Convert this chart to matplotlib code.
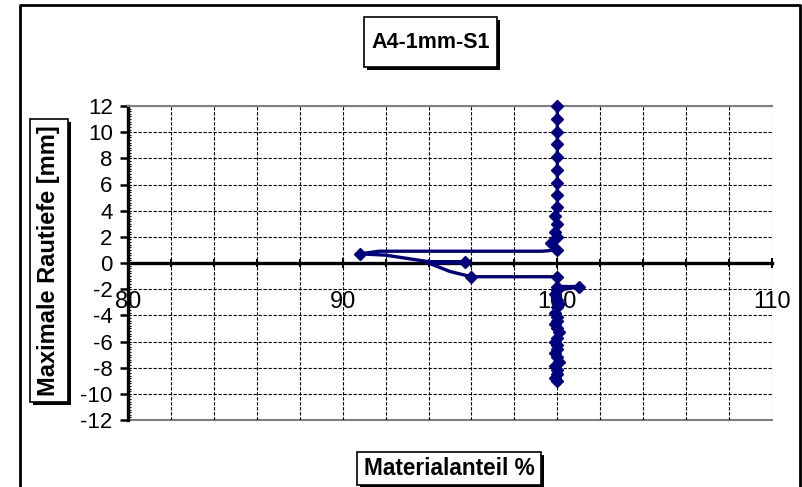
import matplotlib
matplotlib.use("Agg")
import matplotlib.pyplot as plt
from matplotlib.patches import Rectangle
from matplotlib.ticker import MultipleLocator
from matplotlib.lines import Line2D

plt.rcParams['font.family'] = ['Liberation Sans', 'DejaVu Sans']

title = "A4-1mm-S1"
x_label = "Materialanteil %"
y_label = "Maximale Rautiefe [mm]"

materialanteil = [100, 100, 100, 100, 100, 100, 100, 100, 100, 99.9, 100, 99.9, 100,
                  99.7, 100, 99.3, 91.7, 90.8, 92.0, 93.0, 94.0, 95.7, 94.0, 95.0,
                  96.0, 100, 100, 101, 100, 99.9, 100, 100.1, 100, 99.9, 100, 100,
                  99.9, 100, 100.1, 100, 99.9, 100, 100, 99.9, 100, 100.1, 99.9,
                  100, 100, 99.9, 100]
rautiefe = [12, 11, 10, 9.1, 8.1, 7.1, 6.1, 5.2, 4.3, 3.6, 3.0, 2.4, 2.0,
            1.5, 1.0, 0.9, 0.9, 0.7, 0.6, 0.35, 0.1, 0.1, 0.0, -0.65,
            -1.05, -1.05, -1.8, -1.8, -2.1, -2.4, -2.8, -3.1, -3.4, -3.8, -4.1, -4.4,
            -4.7, -5.0, -5.3, -5.7, -6.0, -6.3, -6.6, -6.9, -7.2, -7.6, -7.9,
            -8.2, -8.5, -8.8, -9.0]
no_marker = [15, 16, 18, 19, 20, 22, 23]

W, H = 803, 487
fig = plt.figure(figsize=(W / 100, H / 100), dpi=100)
ax = fig.add_axes([128 / W, 1 - 420 / H, (772 - 128) / W, (420 - 106) / H])

ax.set_xlim(80, 110)
ax.set_ylim(-12, 12)

# grid
ax.xaxis.set_major_locator(MultipleLocator(10))
ax.xaxis.set_minor_locator(MultipleLocator(2))
ax.yaxis.set_major_locator(MultipleLocator(2))
ax.yaxis.set_minor_locator(MultipleLocator(0.2))
gstyle = dict(color='black', linestyle=(0, (3, 1.5)), linewidth=0.8)
ax.grid(True, which='both', axis='x', **gstyle)
ax.grid(True, which='major', axis='y', **gstyle)
ax.set_axisbelow(True)

# spines
ax.spines['bottom'].set_position(('data', 0))
ax.spines['bottom'].set_linewidth(2.4)
ax.spines['bottom'].set_color('black')
ax.spines['left'].set_linewidth(2.4)
ax.spines['left'].set_color('black')
ax.spines['top'].set_color('#808080')
ax.spines['top'].set_linewidth(1.5)
ax.spines['right'].set_visible(False)
ax.add_line(Line2D([0, 1], [0, 0], transform=ax.transAxes, color='#808080',
                   linewidth=1.5, clip_on=False, zorder=0.5))

ax.tick_params(axis='x', which='major', direction='inout', length=7, width=1.5,
               labelsize=17, pad=17)
ax.tick_params(axis='x', which='minor', direction='inout', length=6, width=1.5)
ax.tick_params(axis='y', which='major', direction='out', length=6, width=1.8,
               labelsize=16, pad=5)
ax.tick_params(axis='y', which='minor', direction='in', length=2.5, width=0.8)
ax.set_yticks(range(-12, 13, 2))
ax.set_yticklabels([str(v) for v in range(-12, 13, 2)])

marks = [i for i in range(len(rautiefe)) if i not in no_marker]
ax.plot(materialanteil, rautiefe, color='#000080', linewidth=2.4,
        marker='D', markersize=6, markerfacecolor='#000080',
        markeredgecolor='#000080', markevery=marks, zorder=5, clip_on=False)


def boxed_text(x0, y0, x1, y1, text, size, rotation=0):
    # coordinates in pixels, top-left origin
    fx0, fx1 = x0 / W, x1 / W
    fy0, fy1 = 1 - y1 / H, 1 - y0 / H
    sh = 3
    fig.add_artist(Rectangle((fx0 + sh / W, fy0 - sh / H), fx1 - fx0, fy1 - fy0,
                             transform=fig.transFigure, facecolor='black',
                             edgecolor='black', linewidth=0))
    fig.add_artist(Rectangle((fx0, fy0), fx1 - fx0, fy1 - fy0,
                             transform=fig.transFigure, facecolor='white',
                             edgecolor='black', linewidth=1.2))
    fig.text((fx0 + fx1) / 2, (fy0 + fy1) / 2, text, ha='center', va='center',
             fontsize=size, fontweight='bold', rotation=rotation)


# outer chart border
fig.add_artist(Line2D([20 / W, 20 / W, 800 / W, 800 / W], [0, 1 - 5 / H, 1 - 5 / H, 0],
                      transform=fig.transFigure, color='black', linewidth=2))

boxed_text(364, 17, 497, 67, title, 15.5)
boxed_text(357, 452, 541, 485, x_label, 16.3)
boxed_text(30, 119, 68, 402, y_label, 17, rotation=90)

fig.savefig("out.png", dpi=100)
